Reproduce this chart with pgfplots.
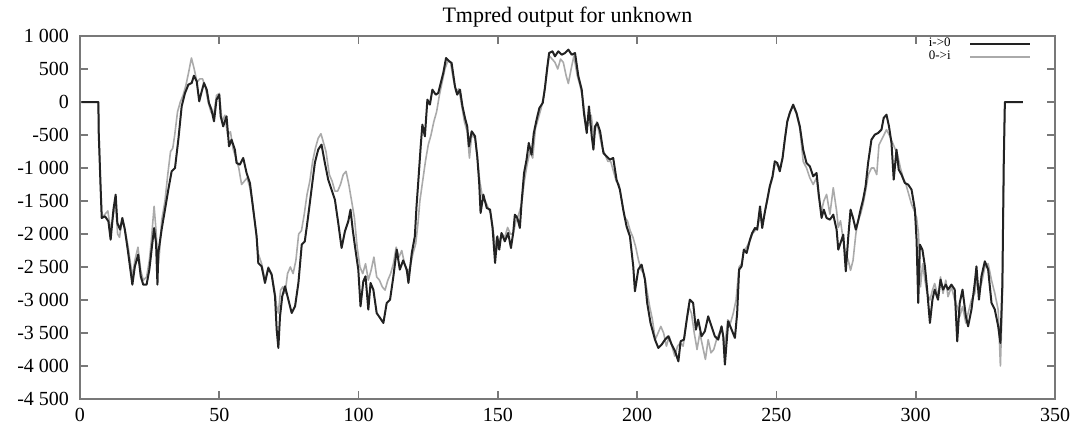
\documentclass[border=0pt]{standalone}
\usepackage{fontspec}
\setmainfont{Liberation Serif}
\usepackage{pgfplots}
\pgfplotsset{compat=1.18}
\definecolor{ioline}{RGB}{34,34,34}
\definecolor{oiline}{RGB}{170,170,170}
\definecolor{frame}{RGB}{120,120,120}

\begin{document}
\begin{tikzpicture}
\begin{axis}[
    scale only axis,
    width=487.5pt, height=181.5pt,
    xmin=0, xmax=350, ymin=-4500, ymax=1000,
    xtick={0,50,...,350},
    xticklabels={0,50,100,150,200,250,300,350},
    ytick={-4500,-4000,...,1000},
    yticklabels={-4 500,-4 000,-3 500,-3 000,-2 500,-2 000,-1 500,-1 000,-500,0,500,1 000},
    tick label style={font=\fontsize{10}{10}\selectfont},
    yticklabel style={xshift=-2pt},
    xticklabel style={yshift=-1pt},
    axis line style={frame, line width=1pt},
    tick style={frame, line width=0.8pt},
    major tick length=4pt,
    tick align=inside,
    title={Tmpred output for unknown},
    title style={font=\fontsize{11}{11}\selectfont, yshift=-5pt},
    legend style={draw=none, fill=none, at={(0.976,0.997)}, anchor=north east,
      font=\fontsize{6.5}{5}\selectfont, inner sep=0pt, row sep=0pt,
      nodes={inner sep=0.3pt}},
    legend plot pos=right,
    legend cell align=right,
    legend image code/.code={\path (0pt,0pt); \draw[#1] (9pt,0pt) -- (39pt,0pt);},
    every axis plot/.append style={line join=round},
]
\addlegendimage{ioline, line width=1pt}
\addlegendentry{i->0}
\addlegendimage{oiline, line width=0.8pt}
\addlegendentry{0->i}

% 0->i
\addplot[oiline, line width=0.8pt, forget plot] coordinates {
(0.5,0)(6.6,0)(6.8,-450)(7.4,-1300)(7.9,-1750)(9,-1700)(10,-1650)(11,-1950)(12,-1700)(12.8,-1550)(13.5,-2000)(14.2,-2050)(15,-1800)(16,-1900)(17.3,-2200)(18.8,-2650)(19.7,-2400)(20.8,-2200)(21.8,-2550)(22.7,-2700)(23.9,-2650)(24.9,-2400)(25.6,-2100)(26.6,-1580)(27.3,-1950)(28,-2500)(28.5,-2300)(29.3,-1800)(30.5,-1500)(31.5,-1100)(32.5,-750)(33.3,-700)(34,-500)(35,-150)(36,0)(37,100)(38,250)(39,450)(40,667)(41,500)(42,300)(43,350)(44,350)(45,230)(46,0)(47,-150)(48,-200)(49,100)(50,130)(51,-300)(52,-200)(53,-500)(54,-450)(55,-720)(56,-850)(57,-1000)(58,-1250)(59,-1200)
(60,-1150)(61,-1300)(62,-1550)(63,-1900)(64,-2300)(65.2,-2450)(66.4,-2700)(67.6,-2500)(68.8,-2600)(70,-2900)(70.6,-3100)(71.2,-3200)(72,-2850)(72.8,-2800)(73.6,-2900)(74.5,-2600)(75.5,-2500)(76.5,-2600)(77.5,-2400)(78.5,-2000)(79.5,-1950)(80.5,-1700)(81.5,-1400)(82.5,-1200)(83.5,-900)(84.5,-700)(85.5,-550)(86.5,-480)(87.3,-600)(88.3,-750)(89.5,-1100)(90.5,-1200)(91.5,-1350)(92.5,-1350)(93.5,-1250)(94.5,-1100)(95.5,-1050)(96.5,-1250)(97.5,-1500)(98.5,-1750)(99.5,-2200)(100.5,-2500)(101.5,-2600)(102.5,-2450)(103.5,-2700)(104.5,-2550)(105.5,-2350)(106.5,-2650)(107.5,-2700)(108.5,-2800)(109.5,-2850)(110.5,-2700)(111.5,-2600)(112.5,-2450)(113.5,-2200)(114.5,-2350)(115.5,-2250)(116.5,-2450)(117.5,-2600)(118.5,-2500)(119.5,-2300)
(120.5,-2150)(121.3,-1850)(122,-1500)(123,-1200)(124,-900)(125,-650)(126,-500)(127,-300)(128,-150)(129,100)(130,300)(131,500)(132,620)(133,600)(134,350)(135,150)(136,200)(137,-50)(138,-300)(139,-450)(139.8,-850)(140.6,-500)(141.8,-550)(142.8,-900)(143.5,-1200)(144.5,-1450)(145.5,-1500)(146.5,-1600)(147.5,-1700)(148.5,-2000)(149.5,-2250)(150.5,-2100)(151.5,-2000)(152.5,-2050)(153.5,-1900)(154.5,-2000)(155.5,-2000)(156.5,-1800)(157.5,-1700)(158.5,-1550)(159.5,-1200)(160.5,-950)(161.5,-750)(162.5,-850)(163.5,-400)(164.5,-250)(165.5,-100)(166.5,100)(167.5,400)(168.4,700)(169.5,650)(170.5,600)(171.5,500)(172.5,650)(173.5,600)(174.5,400)(175.3,280)(176.3,500)(177.3,700)(178.5,400)(179.5,250)
(180.5,50)(181.5,-300)(182.5,-350)(183.5,-200)(184.5,-550)(185.5,-300)(186.5,-500)(187.5,-700)(188.5,-800)(189.5,-900)(190.5,-900)(191.5,-1050)(192.5,-1200)(193.5,-1250)(194.5,-1500)(195.5,-1750)(196.5,-1800)(197.5,-1950)(198.5,-2050)(199.5,-2200)(200.5,-2400)(201.5,-2550)(202.5,-2600)(203.5,-2850)(204.5,-3100)(205.5,-3300)(206.5,-3600)(207.5,-3500)(208.5,-3400)(209.5,-3500)(210.5,-3700)(211.5,-3550)(212.5,-3700)(213.5,-3850)(214.5,-3700)(215.5,-3650)(216.5,-3700)(217.5,-3400)(218.5,-3100)(219.5,-3200)(220.5,-3500)(221.5,-3750)(222.5,-3500)(223.5,-3700)(224.5,-3900)(225.5,-3600)(226.5,-3800)(227.5,-3750)(228.5,-3600)(229.5,-3500)(230.5,-3450)(231.5,-3700)(232.5,-3300)(233.5,-3350)(234.5,-3200)(235.5,-3000)
(236.6,-2500)(237.5,-2450)(238.3,-2250)(239.3,-2200)(240.5,-2100)(241.3,-2000)(242.3,-1950)(243.1,-1900)(244.1,-1750)(244.9,-1850)(245.9,-1650)(246.7,-1500)(247.6,-1300)(248.6,-1150)(249.4,-950)(250.3,-950)(251.2,-1000)(252.2,-850)(253,-580)(253.9,-300)(254.8,-150)(256,-60)(257.2,-180)(258.4,-400)(259.6,-900)(260.8,-1000)(262,-1150)(263.2,-1250)(264.4,-1150)(265.2,-1450)(266.2,-1650)(267,-1500)(268,-1400)(269.2,-1700)(270.4,-1300)(271.6,-1650)(272.2,-1900)(273,-1800)(274,-2100)(274.9,-2300)(275.8,-2400)(276.6,-2550)(277.5,-2400)(278.5,-2000)(279.3,-1800)(280.2,-1700)(281.1,-1550)(282,-1350)(283,-1100)(284.1,-1000)(285,-1000)(286,-1100)(286.8,-650)(288,-550)(289.5,-420)(290.5,-500)(291.5,-600)(292.5,-700)(293.5,-800)(294.5,-1000)(295.5,-1150)(296.5,-1250)(297.5,-1400)(298.5,-1550)(299.5,-1650)
(300.3,-1750)(301,-2000)(301.7,-2800)(302.5,-2450)(303.3,-2700)(304.1,-2900)(305.1,-3000)(306,-2850)(306.8,-2750)(308,-2950)(308.9,-2650)(309.8,-2900)(310.8,-2700)(311.6,-2950)(312.8,-2800)(314,-3000)(314.9,-3100)(315.8,-3250)(316.8,-3100)(318,-3350)(318.8,-3200)(320,-3000)(321.2,-2900)(321.8,-2700)(322.7,-2850)(323.6,-2750)(324.8,-2500)(326,-2450)(327.2,-2700)(328.4,-2900)(329.6,-3150)(330.4,-4000)(331.1,-3000)(331.6,-900)(332,0)(338.5,0)
};

% i->0
\addplot[ioline, line width=1pt, forget plot] coordinates {
(0.5,0)(6.6,0)(6.7,-440)(7.4,-1300)(7.8,-1757)(9,-1732)(10.2,-1808)(11,-2086)(12,-1631)(12.8,-1404)(13.4,-1833)(14.4,-1934)(15.2,-1757)(16.1,-1934)(17.3,-2288)(18.8,-2767)(19.7,-2490)(20.9,-2313)(21.8,-2641)(22.7,-2767)(23.9,-2767)(24.9,-2540)(25.7,-2237)(26.6,-1909)(27.3,-2136)(27.8,-2767)(28.1,-2288)(29.3,-1934)(30.5,-1631)(31.7,-1328)(32.9,-1050)(34.1,-1000)(35.3,-571)(36.5,-66)(37.7,136)(38.9,263)(40.1,288)(40.9,399)(41.9,313)(42.8,10)(43.7,162)(44.5,288)(45.5,187)(46.3,-15)(47.2,-116)(48.1,-293)(49,35)(50,111)(50.5,-217)(51.4,-369)(52.6,-217)(53.5,-672)(54.4,-571)(55.6,-722)(56.2,-924)(57.4,-949)(58.6,-848)(59.8,-1076)
(61,-1227)(62.2,-1631)(63.4,-2035)(64,-2439)(65.2,-2490)(66.4,-2742)(67.6,-2515)(68.8,-2616)(70,-2944)(70.6,-3449)(71.2,-3727)(71.8,-3247)(72.6,-2944)(73.6,-2793)(74.8,-2995)(76,-3197)(77.2,-3096)(78.4,-2742)(79.6,-2161)(80.7,-2111)(81.9,-1732)(83.1,-1328)(84.3,-924)(85.5,-722)(86.7,-646)(87.9,-924)(89.1,-1177)(90.3,-1328)(91.5,-1480)(92.7,-1833)(93.9,-2212)(95.1,-1960)(96.3,-1808)(97.1,-1631)(97.9,-1934)(98.7,-2187)(99.9,-2540)(100.7,-3096)(101.7,-2717)(102.5,-2641)(103.5,-3146)(104.3,-2742)(105.3,-2843)(106.5,-3197)(107.7,-3272)(108.9,-3348)(110.1,-3045)(111.3,-2995)(112.5,-2641)(113.7,-2237)(114.8,-2540)(116,-2400)(117.3,-2540)(117.9,-2742)(119.1,-2288)
(120.2,-2035)(120.8,-1581)(121.4,-1227)(122.3,-672)(122.9,-343)(123.8,-520)(124.7,35)(125.6,-40)(126.5,187)(127.7,111)(128.6,136)(129.5,288)(130.4,439)(131.4,667)(132.6,616)(133.4,591)(134.6,237)(135.4,111)(136.4,187)(137.3,-66)(138.2,-242)(139,-369)(139.6,-672)(140.6,-444)(141.8,-520)(142.6,-823)(143.3,-1227)(143.8,-1682)(144.8,-1404)(146,-1606)(147.2,-1631)(148.1,-1909)(149,-2439)(149.8,-2035)(150.5,-2237)(151.3,-1985)(152.5,-2111)(153.7,-1985)(154.7,-2212)(155.5,-1985)(156.1,-1707)(157,-1757)(157.9,-1909)(158.5,-1530)(159.4,-1076)(160.3,-874)(161.1,-621)(162.1,-798)(162.9,-470)(163.9,-268)(164.9,-91)(166.1,-15)(166.9,212)(167.7,515)(168.4,742)(169.6,768)(170.5,692)(171.7,768)(172.9,717)(174.1,742)(175.3,793)(176.5,717)(177.7,742)(178.9,389)
(180.1,187)(180.9,-167)(181.9,-470)(182.7,-66)(183.7,-520)(184.3,-722)(184.9,-369)(185.7,-318)(186.7,-444)(187.9,-773)(189,-823)(190.2,-874)(191.4,-848)(192.6,-1177)(193.8,-1328)(195,-1631)(196.2,-1884)(197.4,-2035)(198.6,-2490)(199.2,-2868)(200.4,-2540)(201.6,-2464)(202.8,-2692)(203.6,-3045)(204.8,-3348)(206.4,-3600)(207.6,-3727)(208.8,-3676)(210,-3600)(211.2,-3550)(212.4,-3676)(213.6,-3777)(214.8,-3929)(215.6,-3626)(216.8,-3600)(217.8,-3298)(218.9,-2995)(220.1,-3045)(221.1,-3449)(221.9,-3298)(223.1,-3550)(224.3,-3474)(225.5,-3247)(226.7,-3399)(227.9,-3550)(229.1,-3600)(230.3,-3399)(230.9,-3550)(231.5,-3979)(232.7,-3323)(233.9,-3449)(235.1,-3575)(235.9,-3197)
(236.6,-2540)(237.5,-2490)(238.3,-2237)(239.3,-2288)(240.5,-2086)(241.3,-1985)(242.3,-1909)(243.1,-1934)(244.1,-1581)(244.9,-1909)(245.9,-1656)(246.7,-1480)(247.6,-1278)(248.6,-1126)(249.4,-899)(250.3,-924)(251.2,-1050)(252.2,-848)(253,-571)(253.9,-293)(254.8,-167)(256,-40)(257.2,-167)(258.4,-369)(259.6,-722)(260.8,-924)(262,-975)(263.2,-1126)(264.4,-1076)(265.2,-1404)(266.2,-1757)(267,-1631)(268,-1757)(269.2,-1783)(270.4,-1707)(271.6,-1934)(272.2,-2237)(273,-2136)(274,-2010)(274.9,-2565)(275.8,-2035)(276.6,-1631)(277.5,-1757)(278.5,-1934)(279.3,-1808)(280.2,-1631)(281.1,-1480)(282,-1278)(282.9,-924)(284.1,-571)(285.3,-495)(286.5,-470)(287.7,-419)(288.5,-242)(289.5,-192)(290.4,-369)(291.3,-621)(292.1,-1177)(293.1,-722)(293.9,-1025)(294.9,-1101)(296.1,-1227)(297.3,-1252)(298.5,-1328)(299.7,-1631)
(300.3,-2086)(300.9,-3045)(301.5,-2161)(302.4,-2237)(303.3,-2490)(304.1,-2843)(305.1,-3348)(306,-2995)(306.8,-2843)(308,-2995)(308.9,-2692)(309.8,-2843)(310.8,-2767)(311.6,-2843)(312.8,-2767)(314,-2843)(314.9,-3626)(315.8,-3045)(316.8,-2843)(318,-3247)(318.8,-3399)(320,-3146)(321.2,-2742)(321.8,-2490)(322.7,-2995)(323.6,-2641)(324.8,-2414)(326,-2540)(327.2,-3045)(328.4,-3146)(329.6,-3399)(330.4,-3651)(331.1,-2767)(331.6,-924)(332,0)(338.5,0)
};
\end{axis}
\path ([xshift=-40pt,yshift=-13pt]current axis.south west) rectangle ([xshift=14.5pt,yshift=18pt]current axis.north east);
\end{tikzpicture}
\end{document}
